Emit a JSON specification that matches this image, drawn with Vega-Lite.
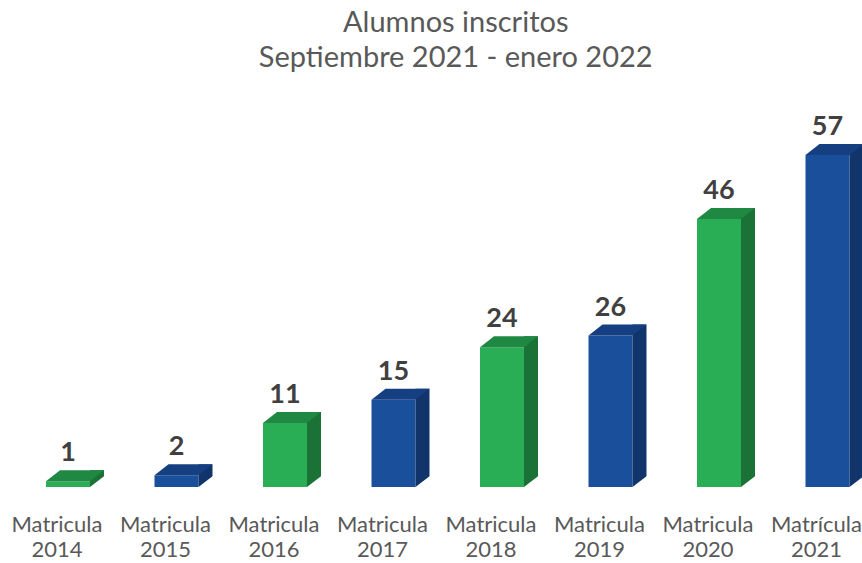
{
  "$schema": "https://vega.github.io/schema/vega-lite/v6.json",
  "autosize": {"type": "none"},
  "width": 868,
  "height": 332,
  "padding": {"left": 2.75, "top": 155, "right": 0, "bottom": 76},
  "background": "white",
  "config": {"view": {"stroke": null}, "font": "Lato"},
  "title": {
    "text": ["Alumnos inscritos", "Septiembre 2021 - enero 2022"],
    "fontSize": 29,
    "fontWeight": "normal",
    "font": "Lato",
    "color": "#595959",
    "lineHeight": 35,
    "anchor": "middle",
    "frame": "group",
    "offset": 40,
    "dx": 19
  },
  "data": {
    "values": [
      {"matricula": "Matricula|2014", "alumnos": 1, "grupo": "A"},
      {"matricula": "Matricula|2015", "alumnos": 2, "grupo": "B"},
      {"matricula": "Matricula|2016", "alumnos": 11, "grupo": "A"},
      {"matricula": "Matricula|2017", "alumnos": 15, "grupo": "B"},
      {"matricula": "Matricula|2018", "alumnos": 24, "grupo": "A"},
      {"matricula": "Matricula|2019", "alumnos": 26, "grupo": "B"},
      {"matricula": "Matricula|2020", "alumnos": 46, "grupo": "A"},
      {"matricula": "Matrícula|2021", "alumnos": 57, "grupo": "B"}
    ]
  },
  "encoding": {
    "x": {
      "field": "matricula",
      "type": "nominal",
      "sort": null,
      "scale": {"paddingInner": 0, "paddingOuter": 0},
      "axis": {
        "title": null,
        "labelAngle": 0,
        "labelExpr": "split(datum.label, '|')",
        "labelFontSize": 22,
        "labelFont": "Lato",
        "labelColor": "#595959",
        "labelLineHeight": 25,
        "labelPadding": 27,
        "ticks": false,
        "domain": false,
        "grid": false
      }
    }
  },
  "layer": [
    {
      "mark": {"type": "bar", "width": 44, "xOffset": 11},
      "encoding": {
        "y": {"field": "alumnos", "type": "quantitative", "scale": {"domain": [0, 57], "nice": false, "zero": true}, "axis": null},
        "y2": {"datum": 0},
        "fill": {"field": "grupo", "type": "nominal", "scale": {"domain": ["A", "B"], "range": ["#29AD55", "#1A4F9B"]}, "legend": null}
      }
    },
    {
      "mark": {"type": "bar", "width": 14, "xOffset": 40, "yOffset": -11},
      "encoding": {
        "y": {"field": "alumnos", "type": "quantitative"},
        "y2": {"datum": 0},
        "fill": {"field": "grupo", "type": "nominal", "scale": {"domain": ["A", "B"], "range": ["#1B7237", "#11346A"]}, "legend": null}
      }
    },
    {
      "mark": {"type": "point", "shape": "M 33 0 L 48 0 L 48 -11.5 Z", "size": 4, "filled": true, "opacity": 1, "strokeWidth": 0, "fill": "white"},
      "encoding": {
        "y": {"datum": 0}
      }
    },
    {
      "mark": {"type": "point", "shape": "M -11 0 L 33 0 L 47 -11 L 3 -11 Z", "size": 4, "filled": true, "opacity": 1, "strokeWidth": 0},
      "encoding": {
        "y": {"field": "alumnos", "type": "quantitative"},
        "fill": {"field": "grupo", "type": "nominal", "scale": {"domain": ["A", "B"], "range": ["#1F8843", "#153F81"]}, "legend": null}
      }
    },
    {
      "mark": {"type": "text", "dx": 11, "dy": -20, "baseline": "alphabetic", "fontSize": 27, "fontWeight": "bold", "font": "Lato", "color": "#404040"},
      "encoding": {
        "y": {"field": "alumnos", "type": "quantitative"},
        "text": {"field": "alumnos", "type": "quantitative"}
      }
    }
  ],
  "resolve": {"scale": {"fill": "independent"}}
}
